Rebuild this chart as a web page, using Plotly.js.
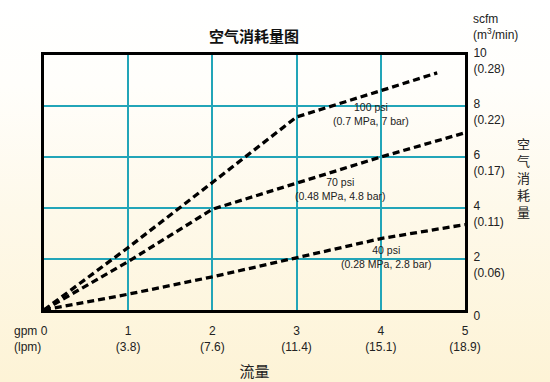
<!DOCTYPE html>
<html><head><meta charset="utf-8">
<script src="https://cdn.plot.ly/plotly-3.0.1.min.js"></script>
<style>
html,body{margin:0;padding:0;}
body{width:550px;height:382px;background:linear-gradient(to bottom,#ffffff 0%,#fffefb 22%,#fef9ea 55%,#fdf3d6 100%);}
#chart{width:550px;height:382px;}
</style>
</head><body><div id="chart"></div>
<script>
const flowGpm = [0, 1, 2, 3, 4, 5];
const xTickLabels = ["0", "1<br>(3.8)", "2<br>(7.6)", "3<br>(11.4)", "4<br>(15.1)", "5<br>(18.9)"];
const airTicks = [0, 2, 4, 6, 8, 10];
const yTickLabels = ["0", "2<br>(0.06)", "4<br>(0.11)", "6<br>(0.17)", "8<br>(0.22)", "10<br>(0.28)"];
const x100 = [0, 1, 2, 3, 4, 4.67];
const y100 = [0, 2.45, 5.0, 7.57, 8.6, 9.3];
const x70 = [0, 1, 2, 3, 4, 5];
const y70 = [0, 1.9, 3.95, 4.97, 6.0, 6.95];
const x40 = [0, 1, 2, 3, 4, 5];
const y40 = [0, 0.62, 1.3, 2.05, 2.8, 3.35];
const seriesNames = ["100 psi", "70 psi", "40 psi"];
const seriesNotes = ["(0.7 MPa, 7 bar)", "(0.48 MPa, 4.8 bar)", "(0.28 MPa, 2.8 bar)"];

const FONT = "Liberation Sans, Arial, Noto Sans CJK SC, sans-serif";
const CJK = "Noto Sans CJK SC, sans-serif";
const lineStyle = {color: "#000", width: 3.3, dash: "7px,4px"};

const traces = [
  {x: x100, y: y100, name: seriesNames[0]},
  {x: x70, y: y70, name: seriesNames[1]},
  {x: x40, y: y40, name: seriesNames[2]}
].map(t => Object.assign(t, {type: "scatter", mode: "lines", line: lineStyle, hoverinfo: "skip"}));

const labelPos = [[3.88, 7.69], [3.52, 4.73], [4.06, 2.08]];
const annotations = seriesNames.map((n, i) => ({
  x: labelPos[i][0], y: labelPos[i][1], xref: "x", yref: "y",
  text: n + "<br>" + seriesNotes[i], showarrow: false,
  font: {family: FONT, size: 10.5, color: "#222"}, align: "center"
}));
annotations.push({
  xref: "paper", yref: "paper", x: -0.076, y: -0.047, xanchor: "left", yanchor: "top",
  text: "gpm<br>(lpm)", showarrow: false, align: "left",
  font: {family: FONT, size: 12, color: "#222"}
});
annotations.push({
  xref: "paper", yref: "paper", x: 1.014, y: 1.11, xanchor: "left", yanchor: "middle",
  text: "scfm<br>(m<sup>3</sup>/min)", showarrow: false, align: "left",
  font: {family: FONT, size: 12, color: "#222"}
});
annotations.push({
  xref: "paper", yref: "paper", x: 1.14, y: 0.52, xanchor: "center", yanchor: "middle",
  text: "空<br>气<br>消<br>耗<br>量", showarrow: false, align: "center",
  font: {family: CJK, size: 13, color: "#222"}
});

const layout = {
  width: 550, height: 382,
  paper_bgcolor: "rgba(0,0,0,0)", plot_bgcolor: "rgba(0,0,0,0)",
  margin: {l: 44, r: 85, t: 55, b: 72},
  showlegend: false,
  title: {text: "<b>空气消耗量图</b>", font: {family: CJK, size: 15, color: "#111"},
          x: 0.462, xanchor: "center", y: 0.905, yanchor: "middle"},
  xaxis: {
    range: [0, 5], tickvals: flowGpm, ticktext: xTickLabels,
    showgrid: true, gridcolor: "#22a5b8", gridwidth: 2, zeroline: false,
    showline: true, linecolor: "#000", linewidth: 3, mirror: true,
    ticks: "", tickfont: {family: FONT, size: 12, color: "#222"},
    ticklabelstandoff: 8,
    title: {text: "流量", font: {family: CJK, size: 15, color: "#222"}, standoff: 14},
    fixedrange: true
  },
  yaxis: {
    range: [0, 10], side: "right", tickvals: airTicks, ticktext: yTickLabels,
    showgrid: true, gridcolor: "#22a5b8", gridwidth: 2, zeroline: false,
    showline: true, linecolor: "#000", linewidth: 3, mirror: true,
    ticks: "", tickfont: {family: FONT, size: 12, color: "#222"},
    ticklabelstandoff: 3, ticklabelshift: 6,
    fixedrange: true
  },
  annotations: annotations
};

Plotly.newPlot("chart", traces, layout, {staticPlot: true, displayModeBar: false});
</script>
</body></html>
